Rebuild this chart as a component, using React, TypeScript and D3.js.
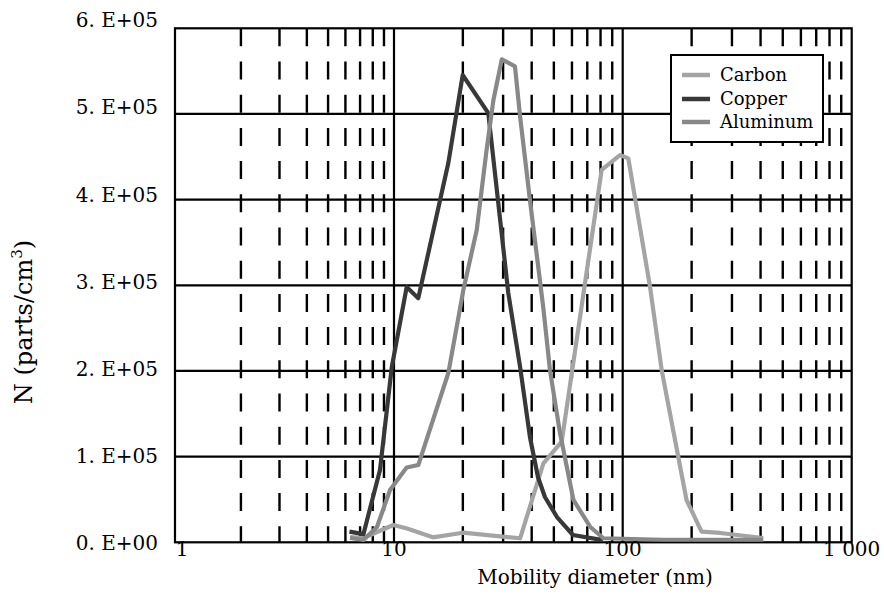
import React from "react";
import * as d3 from "d3";

// Particle number concentration by mobility diameter (nm)
const carbonD = [6.3, 7.25, 9.93, 11.4, 14.8, 20.0, 35.6, 45.0, 54.1, 80.9, 97.3, 105.8, 131.6, 148, 190, 221, 266, 411];
const carbonN = [6200, 5000, 20200, 16000, 5800, 11200, 4700, 92200, 117400, 434600, 452100, 448200, 298400, 201100, 49400, 12400, 10900, 5000];

const copperD = [6.26, 7.25, 8.63, 9.77, 11.36, 12.77, 17.28, 19.97, 25.84, 31.6, 35.6, 39.3, 42.6, 45.7, 51.6, 60.6, 82];
const copperN = [12400, 9500, 84400, 204600, 298000, 285000, 442800, 545500, 501000, 291000, 204600, 122900, 76200, 52900, 29500, 8500, 2500];

const aluminumD = [6.3, 7.25, 8.36, 9.59, 11.36, 12.77, 17.28, 20.1, 23.0, 25.4, 27.2, 29.6, 33.8, 35.6, 39.3, 45.0, 48.1, 53.2, 60.9, 72.0, 82.3, 150, 411];
const aluminumN = [5000, 2700, 17900, 61000, 87300, 90200, 197600, 294500, 364500, 457900, 516000, 563800, 555600, 496800, 399600, 273000, 200500, 127600, 49400, 18200, 4700, 3000, 3000];

const seriesNames = ["Carbon", "Copper", "Aluminum"];
const seriesColors = ["#a4a4a4", "#383838", "#888888"];

const xDecades = [1, 10, 100, 1000];
const xTickLabels = ["1", "10", "100", "1 000"];
const minorSteps = [2, 3, 4, 5, 6, 7, 8, 9];
const yTicks = [0, 100000, 200000, 300000, 400000, 500000, 600000];
const yTickLabels = ["0. E+00", "1. E+05", "2. E+05", "3. E+05", "4. E+05", "5. E+05", "6. E+05"];

const W = 884;
const H = 615;
const left = 175;
const right = 851.7;
const top = 28.3;
const bottom = 542.3;
const font = "'DejaVu Serif', serif";

export default function App() {
  const x = d3.scaleLog().domain(xDecades).range([left, 394, 622.7, right]);
  const y = d3.scaleLinear().domain([0, 600000]).range([bottom, top]);
  // tick labels are spread a little wider than the plot area
  const yLabel = d3.scaleLinear().domain([0, 600000]).range([543, 20]);

  const line = d3
    .line<[number, number]>()
    .x((d) => x(d[0]))
    .y((d) => y(d[1]));

  const series = [
    carbonD.map((d, i) => [d, carbonN[i]] as [number, number]),
    copperD.map((d, i) => [d, copperN[i]] as [number, number]),
    aluminumD.map((d, i) => [d, aluminumN[i]] as [number, number]),
  ];

  const minor: number[] = [];
  xDecades.slice(0, 3).forEach((dec) => minorSteps.forEach((m) => minor.push(dec * m)));

  const legendX = 671;
  const legendY = 55;
  const legendRows = [75, 99, 122];

  return (
    <svg
      width={W}
      height={H}
      style={{ position: "absolute", left: 0, top: 0, background: "#fff" }}
      fontFamily={font}
    >
      <rect x={0} y={0} width={W} height={H} fill="#fff" />
      {/* minor dashed verticals */}
      {minor.map((v) => (
        <line
          key={"m" + v}
          x1={x(v)}
          x2={x(v)}
          y1={top}
          y2={bottom}
          stroke="#000"
          strokeWidth={2.4}
          strokeDasharray="18 15.2"
        />
      ))}
      {/* major verticals */}
      {xDecades.slice(1, 3).map((v) => (
        <line key={"v" + v} x1={x(v)} x2={x(v)} y1={top} y2={bottom} stroke="#000" strokeWidth={2.2} />
      ))}
      {/* horizontal gridlines */}
      {yTicks.slice(1, 6).map((v) => (
        <line key={"h" + v} x1={left} x2={right} y1={y(v)} y2={y(v)} stroke="#000" strokeWidth={2.2} />
      ))}
      <rect x={left} y={top} width={right - left} height={bottom - top} fill="none" stroke="#000" strokeWidth={2.2} />

      {/* data series */}
      {series.map((s, i) => (
        <path
          key={seriesNames[i]}
          d={line(s) || ""}
          fill="none"
          stroke={seriesColors[i]}
          strokeWidth={4.2}
          strokeLinejoin="round"
        />
      ))}

      {/* y tick labels */}
      {yTicks.map((v, i) => (
        <text key={"yt" + v} x={158} y={yLabel(v)} dy="0.36em" textAnchor="end" fontSize={20} fill="#000">
          {yTickLabels[i]}
        </text>
      ))}
      {/* x tick labels */}
      {xDecades.map((v, i) => (
        <text key={"xt" + v} x={x(v) + (i === 0 ? 7 : 0)} y={556} textAnchor="middle" fontSize={20} fill="#000">
          {xTickLabels[i]}
        </text>
      ))}

      <text x={595} y={584} textAnchor="middle" fontSize={20} fill="#000">
        Mobility diameter (nm)
      </text>
      <text transform="translate(32,322) rotate(-90)" textAnchor="middle" fontSize={24} fill="#000">
        N (parts/cm
        <tspan fontSize={15} dy={-10}>
          3
        </tspan>
        <tspan dy={10}>)</tspan>
      </text>

      {/* legend */}
      <rect x={legendX} y={legendY} width={152} height={87} fill="#fff" stroke="#000" strokeWidth={2} />
      {seriesNames.map((name, i) => (
        <g key={"lg" + name}>
          <line x1={682} x2={710} y1={legendRows[i]} y2={legendRows[i]} stroke={seriesColors[i]} strokeWidth={4.5} />
          <text x={720} y={legendRows[i]} dy="0.35em" fontSize={18} fill="#000">
            {name}
          </text>
        </g>
      ))}
    </svg>
  );
}
